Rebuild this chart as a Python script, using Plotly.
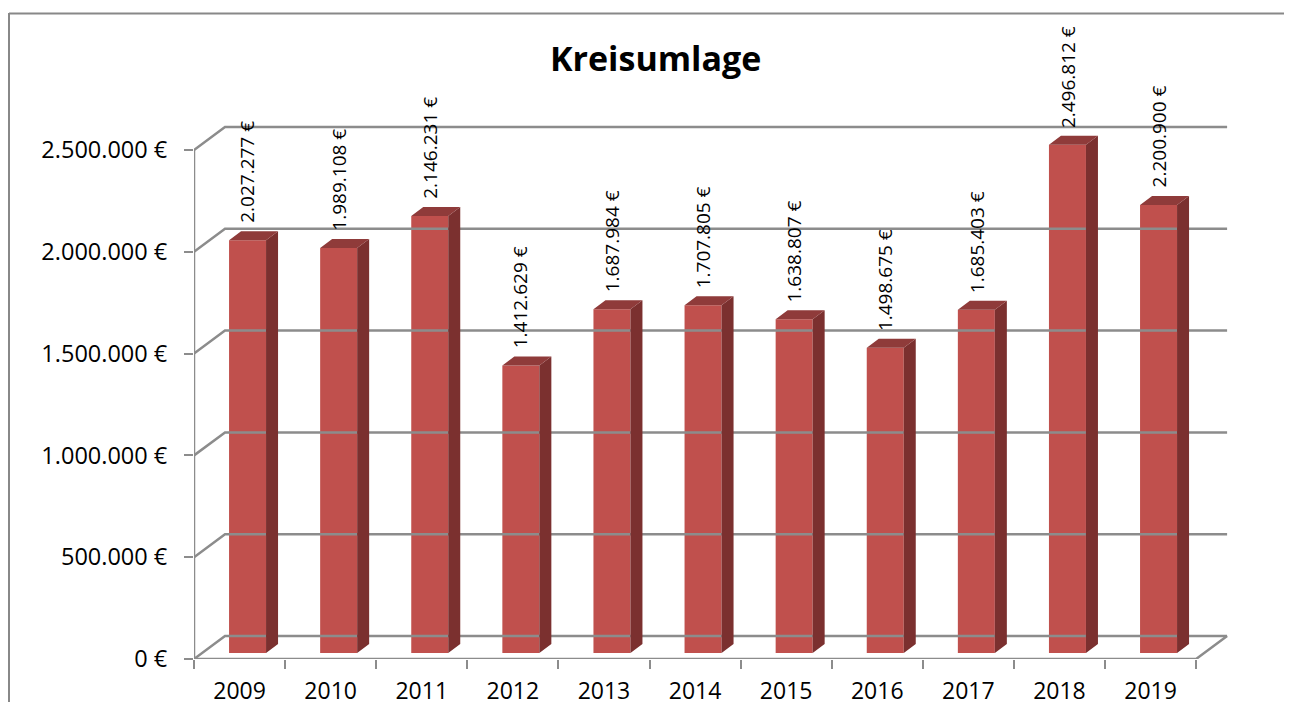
import plotly.graph_objects as go

# ---------------- data ----------------
years = ["2009", "2010", "2011", "2012", "2013", "2014", "2015", "2016", "2017", "2018", "2019"]
values = [2027277, 1989108, 2146231, 1412629, 1687984, 1707805, 1638807, 1498675, 1685403, 2496812, 2200900]
y_tickvals = [0, 500000, 1000000, 1500000, 2000000, 2500000]
y_ticktext = ["0 €", "500.000 €", "1.000.000 €", "1.500.000 €", "2.000.000 €", "2.500.000 €"]
title_text = "Kreisumlage"

# ---------------- layout geometry (screen px; page body has an 8px margin) ----------------
OFF = 8
W, H = 1292 - OFF, 702 - OFF
AX_LEFT, AX_RIGHT_EDGE, AX_TOP, AX_BOTTOM = 194, 1250, 100, 659   # screen px of plot area
ML = AX_LEFT - OFF
MR = (OFF + W) - AX_RIGHT_EDGE
MT = AX_TOP - OFF
MB = (OFF + H) - AX_BOTTOM
PX_CAT = 91.1          # pixels per category
PX_VAL = 203.6e-6      # pixels per unit value
X_MAX = -0.5 + (AX_RIGHT_EDGE - AX_LEFT) / PX_CAT
Y_MAX = (AX_BOTTOM - AX_TOP) / PX_VAL

# 3D depth offsets (in data units)
DX = 31 / PX_CAT
DY = 23 / PX_VAL
F_DX, F_DY = 8 / PX_CAT, 6 / PX_VAL      # bar front face offset
S_DX, S_DY = 12 / PX_CAT, 9 / PX_VAL     # bar depth
BAR_W = 37 / PX_CAT

GRID = "#8c8c8c"
FRONT = "#C0504D"
SIDE = "#7B302F"
TOP = "#8F3B3A"
FONT = "Open Sans"

n = len(years)
x_left, x_right = -0.5, n - 0.5

fig = go.Figure()

# back-wall gridlines with side-wall diagonals
gx, gy = [], []
for v in y_tickvals:
    gx += [x_left, x_left + DX, x_right + DX, None]
    gy += [v, v + DY, v + DY, None]
# floor front edge, right floor diagonal, front vertical axis
gx += [x_left, x_right, x_right + DX, None, x_left, x_left, None]
gy += [0, 0, DY, None, 0, y_tickvals[-1], None]
fig.add_trace(go.Scatter(x=gx, y=gy, mode="lines", line=dict(color=GRID, width=2.5),
                         hoverinfo="skip", showlegend=False, cliponaxis=False))

# bar front faces
bx = [i + F_DX for i in range(n)]
fig.add_trace(go.Bar(x=bx, y=values, base=F_DY, width=BAR_W,
                     marker=dict(color=FRONT, line=dict(width=0)),
                     showlegend=False, hoverinfo="skip"))

# side faces
sx, sy = [], []
for i, v in enumerate(values):
    xr = bx[i] + BAR_W / 2
    sx += [xr, xr + S_DX, xr + S_DX, xr, xr, None]
    sy += [F_DY, F_DY + S_DY, F_DY + v + S_DY, F_DY + v, F_DY, None]
fig.add_trace(go.Scatter(x=sx, y=sy, mode="lines", fill="toself", fillcolor=SIDE,
                         line=dict(width=0, color=SIDE), hoverinfo="skip", showlegend=False))

# top faces
tx, ty = [], []
for i, v in enumerate(values):
    xl = bx[i] - BAR_W / 2
    xr = bx[i] + BAR_W / 2
    top = F_DY + v
    tx += [xl, xr, xr + S_DX, xl + S_DX, xl, None]
    ty += [top, top, top + S_DY, top + S_DY, top, None]
fig.add_trace(go.Scatter(x=tx, y=ty, mode="lines", fill="toself", fillcolor=TOP,
                         line=dict(width=0, color=TOP), hoverinfo="skip", showlegend=False))

# data labels
annotations = []
for i, v in enumerate(values):
    annotations.append(dict(
        x=bx[i], y=F_DY + v, xref="x", yref="y",
        text=f"{v:,}".replace(",", ".") + " €",
        textangle=-90, showarrow=False, xanchor="center", yanchor="bottom",
        yshift=16, borderpad=0, font=dict(family=FONT, size=19, color="black")))


def px_x(p):
    return (p - AX_LEFT) / (AX_RIGHT_EDGE - AX_LEFT)


def px_y(p):
    return (AX_BOTTOM - p) / (AX_BOTTOM - AX_TOP)


# title
annotations.append(dict(
    x=px_x(655), y=px_y(58), xref="paper", yref="paper", text=f"<b>{title_text}</b>",
    showarrow=False, xanchor="center", yanchor="middle",
    font=dict(family=FONT, size=34, color="black")))

shapes = [
    dict(type="line", xref="paper", yref="paper", x0=px_x(9), x1=px_x(9), y0=px_y(13), y1=px_y(760),
         line=dict(color="#888888", width=2)),
    dict(type="line", xref="paper", yref="paper", x0=px_x(9), x1=px_x(1320), y0=px_y(13.5), y1=px_y(13.5),
         line=dict(color="#888888", width=2)),
]

fig.update_layout(
    width=W, height=H,
    margin=dict(l=ML, r=MR, t=MT, b=MB, pad=0, autoexpand=False),
    paper_bgcolor="white", plot_bgcolor="white",
    showlegend=False,
    annotations=annotations,
    shapes=shapes,
    xaxis=dict(range=[-0.5, X_MAX], tickmode="array", tickvals=list(range(n)), ticktext=years,
               ticks="", showgrid=False, zeroline=False, showline=False, automargin=False,
               tickfont=dict(family=FONT, size=23, color="black"), ticklabelstandoff=16,
               minor=dict(tickmode="array", tickvals=[k - 0.5 for k in range(n + 1)],
                          ticks="outside", ticklen=9, tickwidth=2, tickcolor=GRID, showgrid=False),
               fixedrange=True),
    yaxis=dict(range=[0, Y_MAX], tickmode="array", tickvals=y_tickvals, ticktext=y_ticktext,
               ticks="outside", ticklen=9, tickwidth=2, tickcolor=GRID, automargin=False,
               showgrid=False, zeroline=False, showline=False,
               tickfont=dict(family=FONT, size=23.5, color="black"), ticklabelstandoff=12,
               fixedrange=True),
)

fig.write_html("out.html")
